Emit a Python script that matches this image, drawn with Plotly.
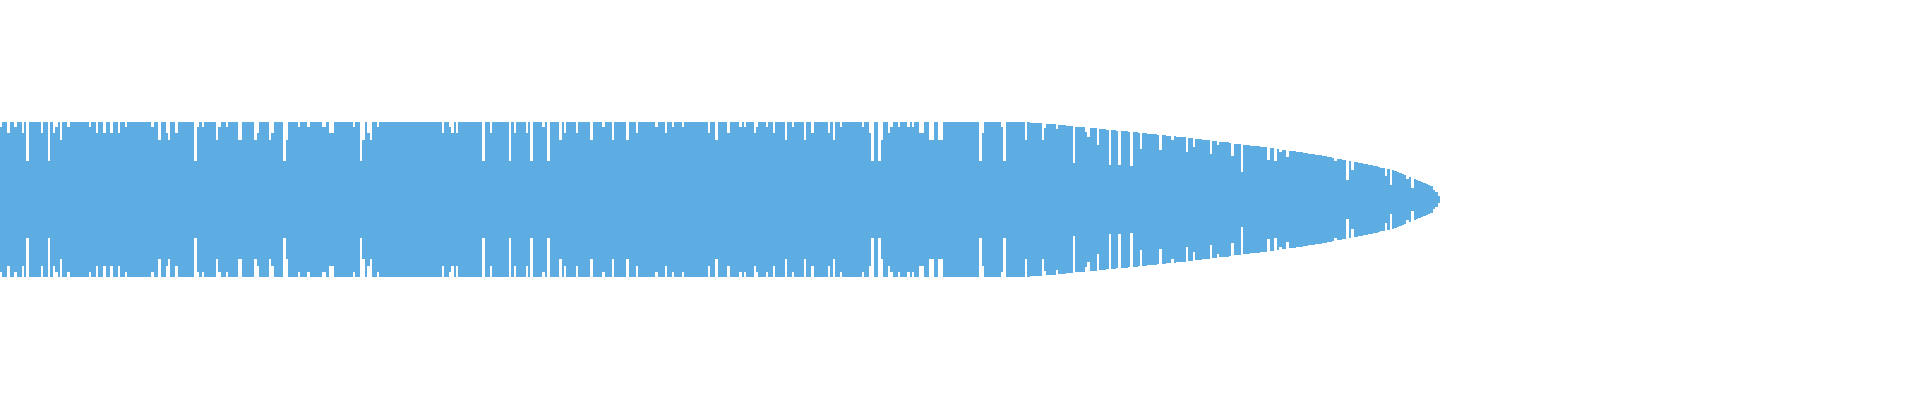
import numpy as np
import plotly.graph_objects as go

# one amplitude per bar (1 = full height)
amplitude = [
    0.935, 1, 1, 0.858, 1, 1, 0.935, 1, 1, 0.858, 1, 0.497, 1, 1, 1, 1, 1, 0.858, 1, 1,
    0.497, 1, 0.858, 0.935, 1, 0.768, 1, 1, 0.935, 1, 1, 1, 1, 1, 1, 1, 1, 0.935, 1, 1,
    0.858, 1, 1, 0.858, 1, 1, 0.858, 1, 1, 0.858, 1, 1, 0.935, 1, 1, 1, 1, 1, 1, 1,
    1, 1, 1, 0.935, 1, 1, 0.768, 1, 1, 0.858, 0.768, 1, 1, 0.858, 1, 1, 1, 1, 1, 1,
    1, 0.497, 0.935, 1, 0.935, 1, 1, 1, 1, 1, 0.768, 0.935, 1, 1, 0.935, 1, 1, 1, 1, 0.768,
    0.768, 1, 1, 1, 1, 1, 0.768, 0.858, 1, 1, 1, 1, 0.768, 0.858, 1, 1, 1, 1, 0.497, 0.768,
    1, 1, 1, 1, 0.935, 1, 1, 1, 0.935, 1, 1, 1, 1, 1, 0.935, 0.935, 1, 0.858, 0.858, 1,
    1, 1, 1, 1, 1, 1, 1, 0.935, 1, 1, 0.497, 0.768, 1, 0.858, 0.768, 1, 1, 0.935, 1, 1,
    1, 1, 1, 1, 1, 1, 1, 1, 1, 1, 1, 1, 1, 1, 1, 1, 1, 1, 1, 1,
    1, 1, 1, 1, 0.858, 1, 1, 0.935, 0.858, 1, 0.858, 1, 1, 1, 1, 1, 1, 1, 1, 1,
    1, 0.497, 1, 1, 0.858, 1, 1, 1, 1, 1, 1, 1, 0.497, 1, 0.858, 1, 1, 1, 1, 0.858,
    1, 0.497, 1, 1, 1, 1, 0.935, 1, 0.497, 1, 1, 1, 1, 0.768, 1, 0.858, 1, 1, 1, 1,
    0.858, 1, 1, 1, 1, 1, 0.768, 1, 1, 1, 1, 0.935, 1, 1, 1, 0.768, 1, 1, 1, 1,
    1, 0.768, 1, 1, 1, 0.858, 1, 1, 1, 1, 1, 1, 1, 0.935, 1, 1, 1, 0.858, 1, 1,
    0.935, 1, 1, 1, 0.935, 1, 1, 1, 1, 1, 1, 1, 1, 1, 1, 0.858, 1, 1, 0.768, 1,
    1, 1, 1, 0.858, 1, 1, 1, 1, 0.935, 1, 0.935, 1, 1, 1, 0.858, 0.935, 1, 1, 1, 0.935,
    1, 1, 0.858, 1, 1, 1, 1, 0.768, 1, 1, 0.935, 1, 1, 1, 1, 0.768, 1, 1, 0.858, 1,
    1, 1, 1, 1, 1, 0.858, 1, 0.768, 1, 1, 0.935, 1, 1, 1, 1, 1, 1, 1, 1, 0.935,
    1, 1, 0.858, 0.497, 1, 1, 0.497, 0.768, 1, 1, 0.858, 0.935, 1, 1, 0.935, 1, 1, 1, 0.935, 1,
    0.935, 1, 1, 0.858, 0.858, 1, 1, 0.768, 0.768, 1, 1, 0.768, 0.768, 1, 1, 1, 1, 1, 1, 1,
    1, 1, 1, 1, 1, 1, 1, 1, 0.497, 0.858, 1, 1, 1, 1, 1, 1, 1, 0.935, 0.497, 1,
    1, 1, 1, 1, 1, 1, 1, 0.768, 1, 0.987, 0.987, 0.987, 0.987, 0.987, 0.768, 0.923, 0.974, 0.974, 0.974, 0.974,
    0.91, 0.961, 0.961, 0.961, 0.948, 0.948, 0.948, 0.47, 0.935, 0.935, 0.935, 0.935, 0.871, 0.806, 0.923, 0.923, 0.923, 0.703, 0.91, 0.91,
    0.91, 0.897, 0.445, 0.897, 0.897, 0.884, 0.445, 0.884, 0.884, 0.884, 0.871, 0.432, 0.871, 0.871, 0.858, 0.652, 0.858, 0.858, 0.845, 0.845,
    0.845, 0.845, 0.832, 0.639, 0.832, 0.832, 0.819, 0.819, 0.768, 0.819, 0.806, 0.806, 0.806, 0.806, 0.613, 0.794, 0.794, 0.677, 0.781, 0.781,
    0.781, 0.768, 0.768, 0.768, 0.587, 0.755, 0.755, 0.703, 0.742, 0.742, 0.742, 0.742, 0.729, 0.561, 0.716, 0.716, 0.716, 0.355, 0.703, 0.703,
    0.703, 0.69, 0.69, 0.69, 0.69, 0.677, 0.677, 0.677, 0.51, 0.665, 0.665, 0.497, 0.652, 0.613, 0.639, 0.639, 0.548, 0.626, 0.626, 0.626,
    0.613, 0.613, 0.613, 0.6, 0.6, 0.587, 0.587, 0.587, 0.574, 0.574, 0.574, 0.561, 0.561, 0.548, 0.548, 0.535, 0.497, 0.523, 0.523, 0.51,
    0.51, 0.252, 0.497, 0.381, 0.484, 0.484, 0.471, 0.471, 0.458, 0.458, 0.445, 0.445, 0.432, 0.432, 0.419, 0.406, 0.406, 0.303, 0.394, 0.187,
    0.381, 0.368, 0.355, 0.342, 0.329, 0.316, 0.265, 0.29, 0.148, 0.265, 0.252, 0.239, 0.226, 0.213, 0.2, 0.187, 0.174, 0.123, 0.097, 0.04,
]

# the track is longer than the audio: 800 slots, 600 used
slots = 800


def waveform():
    amp = np.array(amplitude)
    bars = np.arange(len(amp))

    # mirror each bar around the centre line
    trace = go.Bar(x=bars, y=2 * amp, base=-amp,
                   marker=dict(color='#5dade2', line=dict(width=0)),
                   hoverinfo='skip')

    fig = go.Figure(trace)
    fig.update_layout(width=1920, height=400,
                      margin=dict(l=0, r=0, t=0, b=0),
                      bargap=0,
                      showlegend=False,
                      paper_bgcolor='white',
                      plot_bgcolor='white')
    fig.update_xaxes(visible=False, range=[-0.5, slots - 0.5])
    fig.update_yaxes(visible=False, range=[-2.587, 2.574])
    # drop the default body margin so the track runs from the very left edge
    fig.write_html("out.html",
                   config={'displayModeBar': False},
                   post_script="document.body.style.margin = '0';")


if __name__ == '__main__':
    waveform()
